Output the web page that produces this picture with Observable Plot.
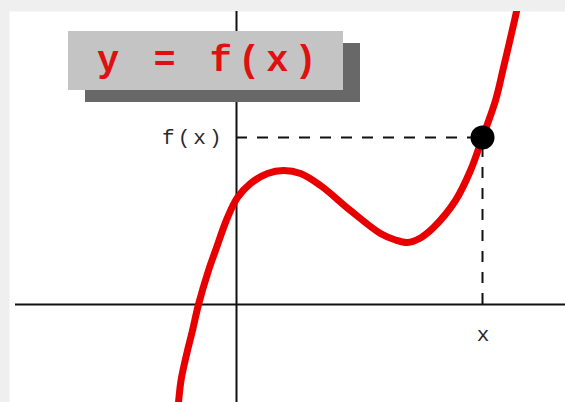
<!DOCTYPE html>
<html>
<head>
<meta charset="utf-8">
<script src="https://cdn.jsdelivr.net/npm/d3@7"></script>
<script src="https://cdn.jsdelivr.net/npm/@observablehq/plot@0.6"></script>
<style>
  html, body { margin: 0; padding: 0; background: #efefef; }
  #wrap { position: relative; width: 565px; height: 402px; overflow: hidden; }
  #title {
    position: absolute; left: 68px; top: 31px; width: 275px; height: 59px;
    background: #c4c4c4; box-shadow: 17px 12px 0 #686868;
    box-sizing: border-box; padding-left: 29px;
    font-family: "Courier New", "Liberation Mono", monospace; font-weight: bold;
    font-size: 37px; letter-spacing: 6px; color: #e01010;
    line-height: 61px; white-space: pre;
  }
  #wrap svg text { letter-spacing: 3px; }
</style>
</head>
<body>
<div id="wrap">
  <div id="chart"></div>
  <div id="title">y = f(x)</div>
</div>
<script>
// Curve samples (units: 1 = 50 px, origin at the axes crossing)
const curveX = [-1.17, -1.16, -1.11, -0.98, -0.88, -0.76, -0.56, -0.42, -0.18, 0.02, 0.28, 0.62, 0.94, 1.28, 1.68, 2.28, 2.88, 3.18, 3.42, 3.66, 3.94, 4.38, 4.68, 4.92, 5.18, 5.34, 5.50, 5.60, 5.63];
const curveY = [-2.05, -1.96, -1.52, -0.92, -0.52, 0.00, 0.68, 1.08, 1.74, 2.14, 2.42, 2.62, 2.68, 2.62, 2.38, 1.88, 1.42, 1.29, 1.24, 1.32, 1.54, 2.08, 2.68, 3.34, 4.08, 4.74, 5.42, 5.86, 6.02];

// Highlighted point (x, f(x))
const pointX = 4.92;
const pointY = 3.34;

// Labels
const xLabel = "x";
const yLabel = "f(x)";

// Visible window
const xDomain = [-4.54, 6.58];
const yDomain = [-1.96, 5.86];

const curve = curveX.map((x, i) => ({x, y: curveY[i]}));
const point = [{x: pointX, y: pointY}];

const mono = "'Courier New', 'Liberation Mono', monospace";

const chart = Plot.plot({
  width: 565,
  height: 402,
  marginTop: 11,
  marginLeft: 9,
  marginRight: 0,
  marginBottom: 0,
  style: {background: "transparent", overflow: "visible"},
  x: {domain: xDomain, axis: null},
  y: {domain: yDomain, axis: null},
  marks: [
    Plot.frame({fill: "white", stroke: "none"}),
    Plot.ruleY([0], {stroke: "#111", strokeWidth: 2, insetLeft: 6}),
    Plot.ruleX([0], {stroke: "#111", strokeWidth: 2}),
    Plot.ruleY(point, {y: "y", x1: 0, x2: "x", stroke: "#111", strokeWidth: 2, strokeDasharray: "11,10"}),
    Plot.ruleX(point, {x: "x", y1: 0, y2: "y", stroke: "#111", strokeWidth: 2, strokeDasharray: "11,10"}),
    Plot.line(curve, {x: "x", y: "y", stroke: "#e80000", strokeWidth: 7, curve: "catmull-rom", clip: true}),
    Plot.dot(point, {x: "x", y: "y", r: 12, fill: "black", stroke: "none"}),
    Plot.text(point, {x: 0, y: "y", text: () => yLabel, textAnchor: "end", dx: -12, fontSize: 21, fontFamily: mono, fill: "#2a2a2a"}),
    Plot.text(point, {x: "x", y: 0, text: () => xLabel, dy: 30, dx: 2, fontSize: 21, fontFamily: mono, fill: "#2a2a2a"})
  ]
});
document.getElementById("chart").appendChild(chart);
</script>
</body>
</html>
